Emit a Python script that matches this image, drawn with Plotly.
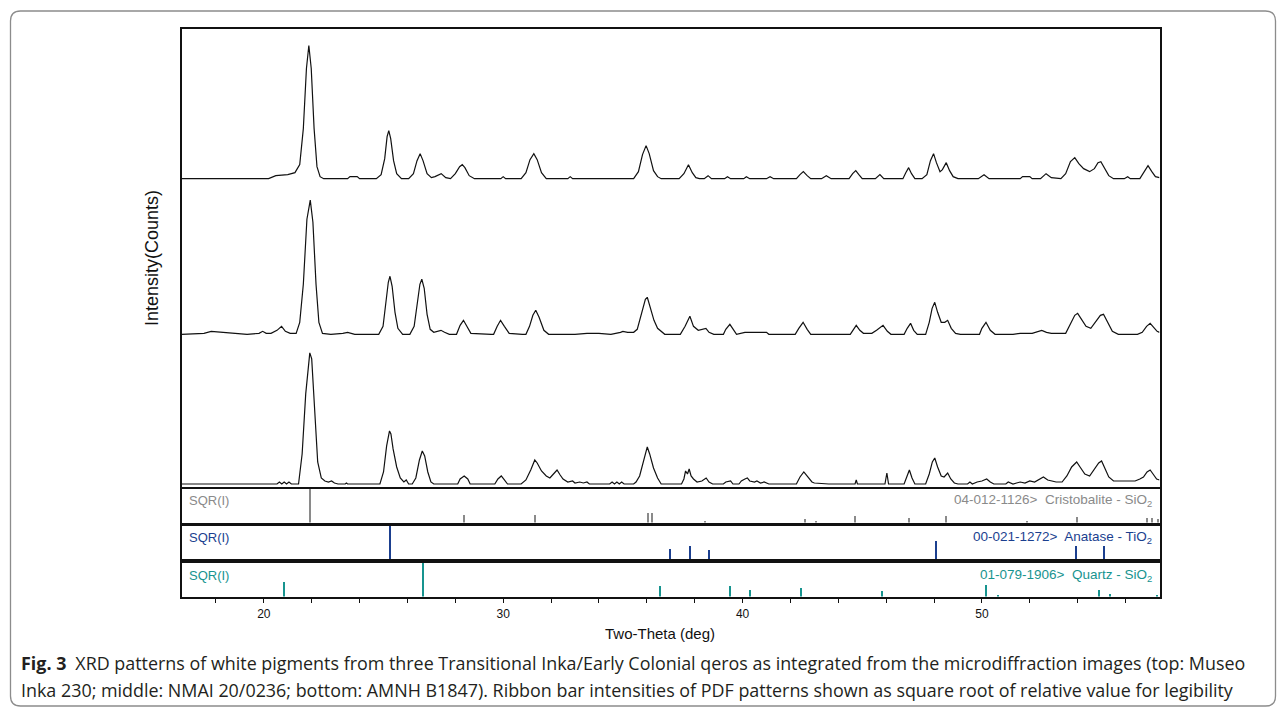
import plotly.graph_objects as go
import math

# ---------------- data ----------------
X_RANGE = [16.56, 57.42]
X_TICKS = [20, 30, 40, 50]

# top: Museo Inka 230  (2-theta, counts above its own baseline)
TOP_PATTERN = [
    (16.56, 0), (20.2, 0), (20.5, 3), (21.0, 4), (21.3, 6), (21.5, 14), (21.65, 50), (21.78, 110),
    (21.88, 133), (21.98, 110), (22.1, 50), (22.22, 12), (22.35, 2), (22.5, 0), (23.5, 0), (23.6, 2),
    (23.9, 2), (24.0, 0), (24.7, 0), (24.9, 4), (25.05, 20), (25.15, 42), (25.22, 48), (25.3, 40),
    (25.42, 18), (25.55, 5), (25.75, 0), (26.05, 0), (26.25, 5), (26.4, 18), (26.53, 25), (26.65, 18),
    (26.82, 5), (27.0, 1), (27.15, 2), (27.41, 5), (27.6, 1), (27.8, 0), (28.0, 5), (28.18, 12),
    (28.29, 14), (28.4, 11), (28.58, 3), (28.8, 0), (29.9, 0), (30.0, 2), (30.1, 0), (30.75, 0),
    (30.95, 6), (31.12, 19), (31.28, 25), (31.42, 19), (31.6, 6), (31.8, 0), (32.7, 0), (32.8, 2),
    (32.9, 0), (35.45, 0), (35.65, 7), (35.82, 24), (35.97, 33), (36.1, 25), (36.28, 8), (36.45, 2),
    (36.6, 0), (37.35, 0), (37.55, 5), (37.74, 14), (37.9, 6), (38.05, 1), (38.2, 0), (38.4, 0),
    (38.56, 3), (38.7, 0), (39.25, 0), (39.37, 2), (39.5, 0), (40.05, 0), (40.16, 2), (40.3, 0),
    (41.0, 0), (41.15, 2), (41.3, 0), (42.25, 0), (42.4, 4), (42.54, 7), (42.7, 3), (42.85, 0),
    (43.3, 0), (43.5, 3), (43.7, 0), (44.45, 0), (44.6, 5), (44.73, 8), (44.86, 4), (45.0, 0),
    (45.55, 0), (45.74, 4), (45.9, 0), (46.7, 0), (46.82, 6), (46.94, 11), (47.06, 5), (47.2, 0),
    (47.5, 0), (47.7, 4), (47.85, 18), (47.98, 25), (48.1, 16), (48.25, 7), (48.35, 9), (48.51, 16),
    (48.65, 8), (48.8, 2), (49.0, 0), (49.85, 0), (50.09, 4), (50.3, 0), (51.6, 0), (51.7, 2),
    (52.0, 2), (52.1, 0), (52.45, 0), (52.68, 5), (52.9, 1), (53.3, 0), (53.5, 5), (53.7, 17),
    (53.88, 21), (54.05, 15), (54.25, 10), (54.5, 7), (54.7, 10), (54.85, 16), (54.97, 17), (55.1, 11),
    (55.3, 3), (55.5, 0), (55.95, 0), (56.09, 2), (56.2, 0), (56.6, 0), (56.75, 6), (56.94, 13),
    (57.1, 7), (57.25, 2), (57.42, 1),
]

# middle: NMAI 20/0236
MIDDLE_PATTERN = [
    (16.56, 0), (17.5, 1), (17.8, 3), (18.2, 2), (18.6, 1), (19.3, 0), (19.8, 1), (19.95, 3),
    (20.1, 1), (20.3, 1), (20.55, 4), (20.74, 8), (20.9, 3), (21.1, 1), (21.35, 1), (21.5, 12),
    (21.65, 50), (21.8, 115), (21.94, 134), (22.05, 112), (22.18, 50), (22.3, 12), (22.45, 1),
    (22.8, 0), (23.3, 1), (23.5, 2), (23.8, 0), (24.5, 0), (24.8, 0), (24.98, 8), (25.1, 30),
    (25.2, 52), (25.27, 58), (25.36, 48), (25.48, 22), (25.6, 6), (25.8, 0), (26.1, 0), (26.28, 8),
    (26.4, 28), (26.52, 50), (26.6, 55), (26.7, 46), (26.82, 20), (26.95, 5), (27.1, 2), (27.25, 3),
    (27.4, 4), (27.55, 2), (27.75, 0), (28.05, 0), (28.2, 9), (28.34, 14), (28.48, 8), (28.65, 1),
    (29.5, 0), (29.6, 0), (29.75, 8), (29.89, 14), (30.05, 8), (30.25, 1), (30.8, 0), (30.95, 0),
    (31.1, 8), (31.24, 19), (31.36, 24), (31.5, 17), (31.7, 4), (31.9, 0), (33.0, 0), (33.5, 1),
    (34.0, 1), (34.5, 0), (34.9, 2), (35.0, 3), (35.2, 2), (35.45, 2), (35.6, 5), (35.8, 22),
    (35.94, 35), (36.02, 37), (36.12, 28), (36.3, 14), (36.45, 6), (36.6, 3), (36.75, 0), (37.4, 0),
    (37.6, 8), (37.8, 18), (37.95, 8), (38.15, 4), (38.3, 5), (38.47, 6), (38.6, 2), (38.8, 0),
    (39.2, 0), (39.3, 5), (39.47, 10), (39.6, 5), (39.75, 0), (40.1, 2), (41.0, 2), (41.1, 0),
    (42.2, 0), (42.35, 6), (42.53, 12), (42.7, 5), (42.85, 0), (44.5, 0), (44.62, 5), (44.75, 9),
    (44.9, 4), (45.05, 1), (45.4, 1), (45.6, 4), (45.87, 9), (46.05, 3), (46.2, 0), (46.75, 0),
    (46.88, 6), (47.02, 11), (47.15, 4), (47.3, 0), (47.65, 0), (47.8, 12), (47.92, 26), (48.03, 32),
    (48.15, 22), (48.3, 12), (48.45, 12), (48.57, 14), (48.72, 6), (48.9, 1), (49.1, 0), (49.9, 0),
    (50.0, 6), (50.17, 12), (50.35, 4), (50.55, 0), (51.3, 0), (51.6, 1), (52.1, 1), (52.35, 3),
    (52.5, 4), (52.7, 2), (52.9, 1), (53.5, 1), (53.7, 10), (53.88, 19), (54.0, 21), (54.15, 15),
    (54.35, 8), (54.55, 6), (54.75, 12), (54.95, 19), (55.08, 20), (55.22, 13), (55.45, 3), (55.7, 0),
    (56.5, 0), (56.7, 2), (56.88, 8), (57.03, 11), (57.18, 7), (57.32, 3), (57.42, 2),
]

# bottom: AMNH B1847
BOTTOM_PATTERN = [
    (16.56, 0), (20.55, 0), (20.65, 2), (20.75, 0), (20.85, 2), (20.95, 0), (21.05, 2), (21.15, 0),
    (21.45, 0), (21.6, 30), (21.75, 90), (21.92, 131), (22.0, 125), (22.12, 70), (22.25, 22),
    (22.4, 6), (22.55, 3), (22.7, 2), (22.83, 3), (22.95, 1), (23.1, 0), (23.4, 0), (23.45, 1),
    (23.5, 0), (24.85, 0), (25.0, 12), (25.13, 38), (25.25, 53), (25.31, 50), (25.4, 35), (25.55, 17),
    (25.7, 6), (25.85, 2), (25.95, 4), (26.05, 0), (26.2, 0), (26.35, 6), (26.5, 24), (26.62, 33),
    (26.72, 28), (26.85, 12), (26.98, 2), (27.1, 0), (28.1, 0), (28.2, 5), (28.37, 8), (28.52, 5),
    (28.62, 0), (29.65, 0), (29.78, 5), (29.92, 8), (30.05, 4), (30.18, 0), (30.75, 0), (30.95, 4),
    (31.15, 14), (31.32, 24), (31.42, 21), (31.6, 13), (31.8, 8), (31.95, 6), (32.1, 10), (32.25, 14),
    (32.38, 9), (32.5, 5), (32.7, 2), (32.9, 3), (33.0, 1), (33.2, 2), (33.35, 1), (33.5, 2),
    (33.6, 0), (34.45, 0), (34.55, 2), (34.65, 0), (34.75, 2), (34.85, 0), (34.95, 2), (35.05, 0),
    (35.45, 0), (35.55, 2), (35.7, 8), (35.88, 26), (36.02, 37), (36.12, 30), (36.28, 16), (36.45, 6),
    (36.6, 0), (37.45, 0), (37.55, 5), (37.62, 13), (37.7, 10), (37.77, 15), (37.85, 8), (37.95, 5),
    (38.1, 2), (38.3, 3), (38.48, 6), (38.6, 2), (38.75, 0), (39.2, 0), (39.3, 2), (39.5, 3),
    (39.6, 0), (39.85, 0), (39.95, 3), (40.1, 5), (40.2, 6), (40.3, 3), (40.5, 2), (40.6, 3),
    (40.75, 1), (40.9, 2), (41.1, 0), (42.25, 0), (42.4, 7), (42.56, 12), (42.72, 7), (42.9, 2),
    (43.0, 1), (43.6, 0), (44.7, 0), (44.75, 4), (44.8, 0), (45.95, 0), (46.03, 11), (46.1, 0),
    (46.75, 0), (46.85, 7), (46.97, 14), (47.08, 6), (47.2, 0), (47.65, 0), (47.8, 10), (47.93, 22),
    (48.03, 26), (48.15, 17), (48.3, 8), (48.42, 7), (48.57, 11), (48.7, 5), (48.85, 1), (49.0, 0),
    (49.4, 0), (49.5, 2), (49.6, 0), (49.8, 2), (50.0, 3), (50.2, 5), (50.35, 2), (50.5, 0),
    (51.0, 0), (51.1, 2), (51.3, 0), (51.45, 1), (51.6, 2), (51.8, 1), (52.0, 3), (52.2, 2),
    (52.4, 5), (52.57, 7), (52.75, 4), (52.9, 3), (53.1, 2), (53.35, 2), (53.55, 8), (53.75, 17),
    (53.96, 22), (54.1, 17), (54.3, 10), (54.5, 8), (54.7, 15), (54.88, 21), (55.0, 23), (55.12, 16),
    (55.3, 7), (55.5, 3), (56.0, 3), (56.4, 3), (56.6, 5), (56.75, 7), (56.9, 12), (57.03, 14),
    (57.15, 10), (57.3, 5), (57.42, 4),
]

# vertical offsets of the stacked patterns (counts)
TOP_OFFSET = 305
MIDDLE_OFFSET = 149.5
BOTTOM_OFFSET = 0

# PDF reference patterns: positions (2-theta) and relative intensities (%)
CRISTOBALITE_POS = [21.9, 28.34, 31.3, 36.04, 36.2, 38.4, 42.6, 43.05, 44.7, 46.93, 48.5, 51.87, 53.96, 56.9, 57.1, 57.35]
CRISTOBALITE_INT = [100, 5.5, 5.5, 8.7, 8.7, 0.4, 1.4, 0.15, 4.2, 2.2, 4.2, 0.15, 3.1, 2.2, 2.2, 1.4]
ANATASE_POS = [25.27, 36.95, 37.8, 38.57, 48.05, 53.9, 55.07]
ANATASE_INT = [100, 9.9, 17, 8.1, 31, 17, 17]
QUARTZ_POS = [20.85, 26.63, 36.56, 39.47, 40.3, 42.45, 45.8, 50.17, 50.66, 54.9, 55.35, 57.3]
QUARTZ_INT = [19.5, 100, 9.9, 9.9, 4.6, 7, 2.8, 11.8, 0.35, 4.6, 0.8, 0.35]

PHASE_LABELS = [
    "04-012-1126>  Cristobalite - SiO<sub>2</sub>",
    "00-021-1272>  Anatase - TiO<sub>2</sub>",
    "01-079-1906>  Quartz - SiO<sub>2</sub>",
]
PHASE_COLORS = ["#8a8a8a", "#1b3f8f", "#17948f"]

X_TITLE = "Two-Theta (deg)"
Y_TITLE = "Intensity(Counts)"
CAPTION_1 = ("<b>Fig. 3</b>\u2002XRD patterns of white pigments from three Transitional Inka/Early Colonial "
             "qeros as integrated from the microdiffraction images (top: Museo")
CAPTION_2 = ("Inka 230; middle: NMAI 20/0236; bottom: AMNH B1847). Ribbon bar intensities of PDF "
             "patterns shown as square root of relative value for legibility")

# ---------------- layout helpers ----------------
W, H = 1284, 708


def fx(px):
    return px / W


def fy(py):
    return 1 - py / H


X_DOM = [fx(181.5), fx(1159.5)]
MAIN_DOM = [fy(486.5), fy(28.5)]
RIB_DOMS = [[fy(522.5), fy(488.5)], [fy(559.0), fy(525.5)], [fy(596.5), fy(562.5)]]

AX_FONT = "Liberation Sans, Arial, sans-serif"
CAP_FONT = "Open Sans, sans-serif"

fig = go.Figure()

for pattern, off in [(TOP_PATTERN, TOP_OFFSET), (MIDDLE_PATTERN, MIDDLE_OFFSET), (BOTTOM_PATTERN, BOTTOM_OFFSET)]:
    xs, ys = zip(*pattern)
    fig.add_trace(go.Scatter(x=list(xs), y=[v + off for v in ys], mode="lines",
                             line=dict(color="#111111", width=1.2), xaxis="x", yaxis="y",
                             showlegend=False, hoverinfo="skip"))

ribbons = [(CRISTOBALITE_POS, CRISTOBALITE_INT), (ANATASE_POS, ANATASE_INT), (QUARTZ_POS, QUARTZ_INT)]
for i, ((pos, inten), col) in enumerate(zip(ribbons, PHASE_COLORS)):
    ax = str(i + 2)
    fig.add_trace(go.Bar(x=pos, y=[math.sqrt(v / 100.0) for v in inten], width=0.06,
                         marker=dict(color=col, line=dict(width=0)),
                         xaxis="x" + ax, yaxis="y" + ax, showlegend=False, hoverinfo="skip"))

box = dict(showline=True, mirror=True, linecolor="#111111", linewidth=1.5,
           showgrid=False, zeroline=False)

layout = dict(
    width=W, height=H, autosize=False,
    margin=dict(l=0, r=0, t=0, b=0),
    paper_bgcolor="white", plot_bgcolor="white",
    bargap=0,
    xaxis=dict(domain=X_DOM, range=X_RANGE, anchor="y", showticklabels=False, ticks="", **box),
    yaxis=dict(domain=MAIN_DOM, range=[-2.5, 455], anchor="x", showticklabels=False, ticks="", **box),
)
for i in range(3):
    ax = str(i + 2)
    xa = dict(domain=X_DOM, range=X_RANGE, anchor="y" + ax, matches="x", **box)
    if i == 2:
        xa.update(showticklabels=True, tickmode="array", tickvals=X_TICKS, ticks="outside",
                  ticklen=5, tickwidth=1.3, tickcolor="#111111",
                  tickfont=dict(family=AX_FONT, size=12, color="#111111"),
                  minor=dict(dtick=2, tick0=0, ticks="outside", ticklen=5, tickwidth=1.3,
                             tickcolor="#111111", showgrid=False))
    else:
        xa.update(showticklabels=False, ticks="")
    layout["xaxis" + ax] = xa
    layout["yaxis" + ax] = dict(domain=RIB_DOMS[i], range=[0, 1.0], anchor="x" + ax,
                                showticklabels=False, ticks="", **box)

fig.update_layout(**layout)

ann = []
rib_centers = [500, 537, 575]
for i in range(3):
    ann.append(dict(text="SQR(I)", x=fx(187), y=fy(rib_centers[i]), xref="paper", yref="paper",
                    xanchor="left", yanchor="middle", showarrow=False,
                    font=dict(family=AX_FONT, size=13, color=PHASE_COLORS[i])))
    ann.append(dict(text=PHASE_LABELS[i], x=fx(1154), y=fy(rib_centers[i]), xref="paper", yref="paper",
                    xanchor="right", yanchor="middle", showarrow=False,
                    font=dict(family=AX_FONT, size=13.5, color=PHASE_COLORS[i])))
ann.append(dict(text=X_TITLE, x=fx(660), y=fy(633), xref="paper", yref="paper", xanchor="center",
                yanchor="middle", showarrow=False, font=dict(family=AX_FONT, size=15, color="#111111")))
ann.append(dict(text=Y_TITLE, x=fx(152), y=fy(258), xref="paper", yref="paper", xanchor="center",
                yanchor="middle", textangle=-90, showarrow=False,
                font=dict(family=AX_FONT, size=18, color="#111111")))
ann.append(dict(text=CAPTION_1, x=fx(19), y=fy(663), xref="paper", yref="paper", xanchor="left",
                yanchor="middle", showarrow=False, font=dict(family=CAP_FONT, size=17.9, color="#231f20")))
ann.append(dict(text=CAPTION_2, x=fx(19), y=fy(690), xref="paper", yref="paper", xanchor="left",
                yanchor="middle", showarrow=False, font=dict(family=CAP_FONT, size=17.9, color="#231f20")))
fig.update_layout(annotations=ann)

# rounded frame around the figure panel
x0, x1, y0, y1, r = fx(10.5), fx(1275.5), fy(706), fy(11), 10
rx, ry = r / W, r / H
path = (f"M {x0 + rx},{y1} L {x1 - rx},{y1} Q {x1},{y1} {x1},{y1 - ry} "
        f"L {x1},{y0 + ry} Q {x1},{y0} {x1 - rx},{y0} L {x0 + rx},{y0} Q {x0},{y0} {x0},{y0 + ry} "
        f"L {x0},{y1 - ry} Q {x0},{y1} {x0 + rx},{y1} Z")
fig.add_shape(type="path", path=path, xref="paper", yref="paper",
              line=dict(color="#8c8c8c", width=1.3), fillcolor="rgba(0,0,0,0)", layer="below")

fig.write_html("out.html", config={"displayModeBar": False},
               post_script="document.body.style.margin='0';")
